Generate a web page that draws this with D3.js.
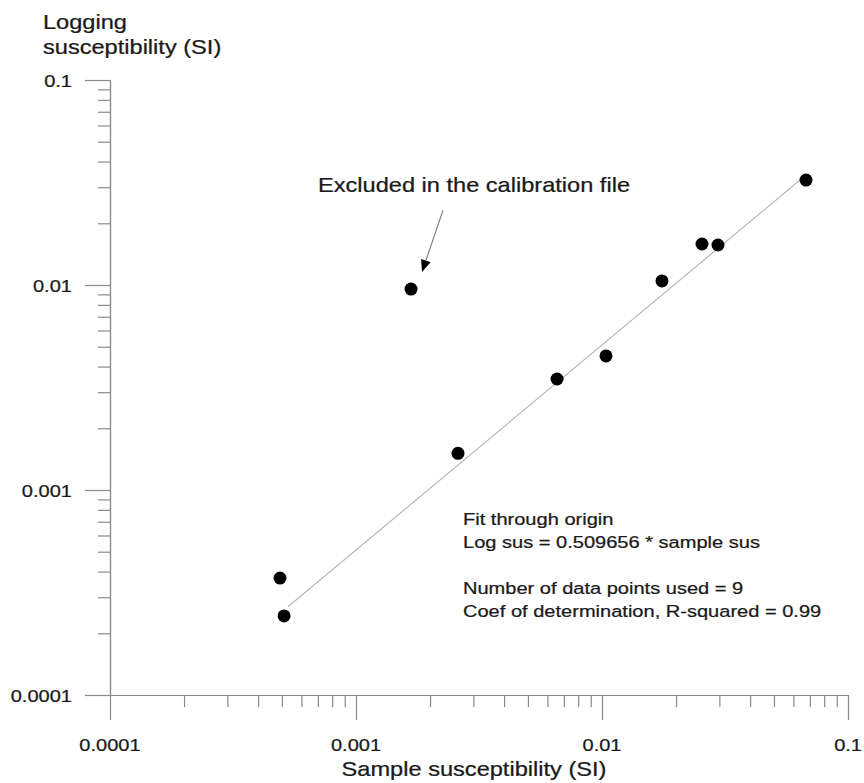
<!DOCTYPE html>
<html><head><meta charset="utf-8">
<script src="https://cdn.jsdelivr.net/npm/d3@7/dist/d3.min.js"></script>
<style>
html,body{margin:0;padding:0;background:#fff;}
svg text{font-family:"Liberation Sans",Arial,sans-serif;fill:#1a1a1a;stroke:#1a1a1a;stroke-width:0.25px;}
</style></head>
<body><svg id="chart" width="864" height="783"></svg>
<script>
// ---- data ----
const sampleSus = [0.000491, 0.000510, 0.001674, 0.002598, 0.006566, 0.01038, 0.01753, 0.02550, 0.02961, 0.06751];
const loggingSus = [0.000372, 0.000243, 0.00955, 0.00151, 0.00348, 0.00451, 0.01047, 0.01585, 0.01567, 0.0325];
const majorTicks = [0.0001, 0.001, 0.01, 0.1];
const tickLabels = ["0.0001", "0.001", "0.01", "0.1"];
const fitSlope = 0.509656;
const fitRange = [0.000529, 0.0660];
const annotationText = "Excluded in the calibration file";
const arrowFrom = [0.002258, 0.0232];
const arrowTo = [0.001855, 0.01156];
const statLines = ["Fit through origin", "Log sus = 0.509656 * sample sus", "", "Number of data points used = 9", "Coef of determination, R-squared = 0.99"];
const xTitle = "Sample susceptibility (SI)";
const yTitleLines = ["Logging", "susceptibility (SI)"];

// ---- layout ----
const SX = 1.18; // horizontal text stretch
const svg = d3.select("#chart");
const x = d3.scaleLog().domain([0.0001, 0.1]).range([110, 848]);
const y = d3.scaleLog().domain([0.0001, 0.1]).range([695, 80]);
const minorTicks = [];
[0.0001, 0.001, 0.01].forEach(d => { for (let k = 2; k <= 9; k++) minorTicks.push(d * k); });

const axisColor = "#8a8a8a";

function styleAxis(g) {
  g.selectAll("path,line").attr("stroke", axisColor).attr("stroke-width", 1.2);
  g.selectAll("text").remove();
}
// x axis
svg.append("g").attr("transform", "translate(0,695)")
  .call(d3.axisBottom(x).tickValues(minorTicks).tickSize(12).tickSizeOuter(0).tickFormat(""))
  .call(styleAxis);
svg.append("g").attr("transform", "translate(0,695)")
  .call(d3.axisBottom(x).tickValues(majorTicks).tickSize(25).tickSizeOuter(0).tickFormat(""))
  .call(styleAxis);
// y axis
svg.append("g").attr("transform", "translate(110,0)")
  .call(d3.axisLeft(y).tickValues(minorTicks).tickSize(12).tickSizeOuter(0).tickFormat(""))
  .call(styleAxis);
svg.append("g").attr("transform", "translate(110,0)")
  .call(d3.axisLeft(y).tickValues(majorTicks).tickSize(25).tickSizeOuter(0).tickFormat(""))
  .call(styleAxis);

function stretchedText(px, py, txt, size, anchor) {
  return svg.append("text")
    .attr("transform", `translate(${px},${py}) scale(${SX},1)`)
    .attr("font-size", size)
    .attr("text-anchor", anchor || "start")
    .text(txt);
}
// tick labels
majorTicks.forEach((v, i) => {
  const last = i === majorTicks.length - 1;
  stretchedText(last ? 862 : x(v), 751, tickLabels[i], 17, last ? "end" : "middle");
  stretchedText(72, y(v) + 7, tickLabels[i], 17, "end");
});

// titles
stretchedText(474, 776, xTitle, 20, "middle");
yTitleLines.forEach((t, i) => stretchedText(43, 29 + i * 25, t, 20, "start"));

// fit line
svg.append("line")
  .attr("x1", x(fitRange[0])).attr("y1", y(fitRange[0] * fitSlope))
  .attr("x2", x(fitRange[1])).attr("y2", y(fitRange[1] * fitSlope))
  .attr("stroke", "#b8b8b8").attr("stroke-width", 1.2);

// points
svg.append("g").selectAll("circle").data(sampleSus).join("circle")
  .attr("cx", d => x(d)).attr("cy", (d, i) => y(loggingSus[i]))
  .attr("r", 6.5).attr("fill", "#000");

// annotation
const ax1 = x(arrowFrom[0]), ay1 = y(arrowFrom[1]), ax2 = x(arrowTo[0]), ay2 = y(arrowTo[1]);
const ang = Math.atan2(ay2 - ay1, ax2 - ax1);
const hl = 12, hw = 5;
const bx = ax2 - hl * Math.cos(ang), by = ay2 - hl * Math.sin(ang);
svg.append("line").attr("x1", ax1).attr("y1", ay1).attr("x2", bx).attr("y2", by)
  .attr("stroke", "#777").attr("stroke-width", 1.1);
svg.append("path")
  .attr("d", `M${ax2},${ay2}L${bx + hw * Math.sin(ang)},${by - hw * Math.cos(ang)}L${bx - hw * Math.sin(ang)},${by + hw * Math.cos(ang)}Z`)
  .attr("fill", "#000");
stretchedText(318, 192, annotationText, 20, "start");

// stats
statLines.forEach((t, i) => { if (t) stretchedText(463, 525 + i * 23, t, 17, "start"); });
</script></body></html>
